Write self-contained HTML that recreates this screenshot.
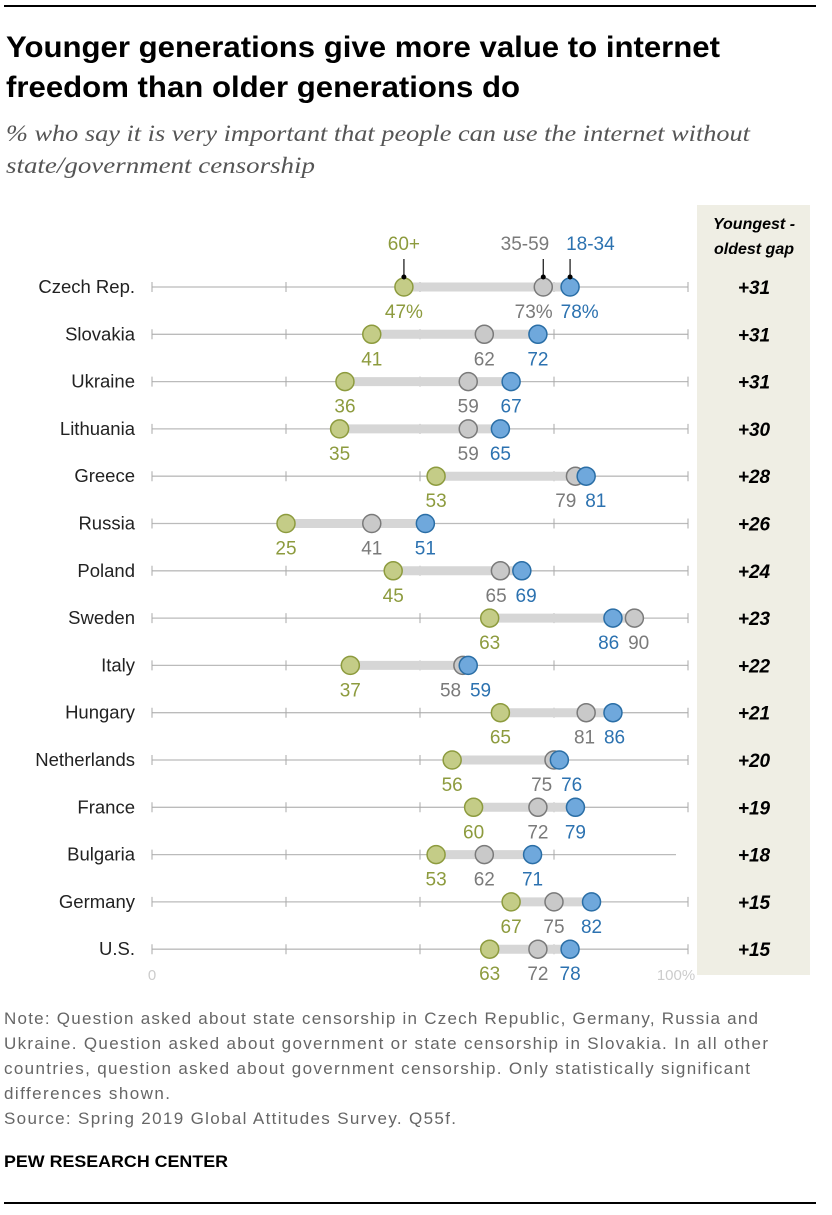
<!DOCTYPE html>
<html><head><meta charset="utf-8">
<style>
body{margin:0;background:#fff;width:832px;height:1210px;overflow:hidden;font-family:"Liberation Sans",sans-serif;}
</style></head>
<body>
<svg id="chart" width="832" height="1210" xmlns="http://www.w3.org/2000/svg" font-family="Liberation Sans, sans-serif">
<line x1="4" y1="6" x2="816" y2="6" stroke="#000" stroke-width="2"/>
<text x="6" y="57" font-size="30" font-weight="bold" fill="#000" textLength="714" lengthAdjust="spacingAndGlyphs">Younger generations give more value to internet</text>
<text x="6" y="97" font-size="30" font-weight="bold" fill="#000" textLength="514" lengthAdjust="spacingAndGlyphs">freedom than older generations do</text>
<text x="6" y="141" font-size="23" font-style="italic" font-family="Liberation Serif, serif" fill="#555" textLength="744" lengthAdjust="spacingAndGlyphs">% who say it is very important that people can use the internet without</text>
<text x="6" y="173" font-size="23" font-style="italic" font-family="Liberation Serif, serif" fill="#555" textLength="309" lengthAdjust="spacingAndGlyphs">state/government censorship</text>
<rect x="697" y="205" width="113" height="770" fill="#efeee4"/>
<text x="754" y="229" font-size="16" font-weight="bold" font-style="italic" text-anchor="middle">Youngest -</text>
<text x="754" y="254" font-size="16" font-weight="bold" font-style="italic" text-anchor="middle">oldest gap</text>
<g id="plot"></g>
<text font-size="17" fill="#666" lengthAdjust="spacingAndGlyphs">
<tspan x="4" y="1024" textLength="754">Note: Question asked about state censorship in Czech Republic, Germany, Russia and</tspan>
<tspan x="4" y="1049" textLength="764">Ukraine. Question asked about government or state censorship in Slovakia. In all other</tspan>
<tspan x="4" y="1074" textLength="746">countries, question asked about government censorship. Only statistically significant</tspan>
<tspan x="4" y="1099" textLength="166">differences shown.</tspan>
<tspan x="4" y="1124" textLength="452">Source: Spring 2019 Global Attitudes Survey. Q55f.</tspan>
</text>
<text x="4" y="1167" font-size="17" font-weight="bold" fill="#000" textLength="224" lengthAdjust="spacingAndGlyphs">PEW RESEARCH CENTER</text>
<line x1="4" y1="1203" x2="816" y2="1203" stroke="#000" stroke-width="2"/>
</svg>
<script>
const countries=["Czech Rep.","Slovakia","Ukraine","Lithuania","Greece","Russia","Poland","Sweden","Italy","Hungary","Netherlands","France","Bulgaria","Germany","U.S."];
const old60=[47,41,36,35,53,25,45,63,37,65,56,60,53,67,63];
const mid3559=[73,62,59,59,79,41,65,90,58,81,75,72,62,75,72];
const young1834=[78,72,67,65,81,51,69,86,59,86,76,79,71,82,78];
const gaps=["+31","+31","+31","+30","+28","+26","+24","+23","+22","+21","+20","+19","+18","+15","+15"];
const xTicks=[0,25,50,75,100];

const NS="http://www.w3.org/2000/svg";
const g=document.getElementById('plot');
const x=v=>152+v*5.36;
const y=i=>287+i*47.3;
function mk(t,a,p){const e=document.createElementNS(NS,t);for(const k in a)e.setAttribute(k,a[k]);(p||g).appendChild(e);return e;}
const series=[
 {vals:old60,fill:"#c4cc87",stroke:"#8d9b3e",lab:"#8d9b3e",name:"60+"},
 {vals:mid3559,fill:"#c9c9c9",stroke:"#7a7a7a",lab:"#7a7a7a",name:"35-59"},
 {vals:young1834,fill:"#6fa8dc",stroke:"#2a6ea6",lab:"#2c72b0",name:"18-34"}];
countries.forEach((c,i)=>{
  const yy=y(i);
  const t=mk('text',{x:135,y:yy+6,'font-size':18.5,'text-anchor':'end',fill:'#222'});t.textContent=c;
  
  
  const endX=c==="Bulgaria"?676:x(100);
  const ax=mk('line',{x1:x(0),y1:yy,x2:endX,y2:yy,stroke:'#bbb','stroke-width':1.3});
  
  
  xTicks.forEach(tv=>{if(x(tv)>endX+1)return;const tk=mk('line',{x1:x(tv),y1:yy-5,x2:x(tv),y2:yy+5,stroke:'#aaa','stroke-width':1});
    
    });
  const vs=series.map(s=>s.vals[i]);
  const mn=Math.min(...vs),mx=Math.max(...vs);
  const bar=mk('line',{x1:x(mn),y1:yy,x2:x(mx),y2:yy,stroke:'#d6d6d6','stroke-width':9});
  
  
  const minSep=i===0?46:30;
  const labs=series.map((s,k)=>({k,cx:x(s.vals[i]),v:s.vals[i]})).sort((a,b)=>a.cx-b.cx);
  for(let it=0;it<6;it++)for(let j=1;j<labs.length;j++){const d=labs[j].cx-labs[j-1].cx;if(d<minSep){const p=(minSep-d)/2;labs[j].cx+=p;labs[j-1].cx-=p;}}
  series.forEach((s,k)=>{
    const dot=mk('circle',{cx:x(s.vals[i]),cy:yy,r:9,fill:s.fill,stroke:s.stroke,'stroke-width':1.5});
    
    
  });
  labs.forEach(l=>{
    const s=series[l.k];
    const tl=mk('text',{x:l.cx,y:yy+31,'font-size':19,'text-anchor':'middle',fill:s.lab});
    tl.textContent=l.v+(i===0?'%':'');
    
    
  });
  const gt=mk('text',{x:754,y:yy+7,'font-size':19,'font-weight':'bold','font-style':'italic','text-anchor':'middle',fill:'#000'});
  gt.textContent=gaps[i];
  
  
});
series.forEach(s=>{
  const cx=x(s.vals[0]);
  const ln=mk('line',{x1:cx,y1:y(0)-10,x2:cx,y2:y(0)-28,stroke:'#222','stroke-width':1.3});
  
  
  const dt=mk('circle',{cx:cx,cy:y(0)-10,r:2.5,fill:'#000'});
  
  
});
[[series[0],x(47),'middle'],[series[1],x(73)+6,'end'],[series[2],x(78)-4,'start']].forEach(([s,px,anc])=>{
  const t=mk('text',{x:px,y:y(0)-37,'font-size':19,'text-anchor':anc,fill:s.lab});t.textContent=s.name;
  
  
});
[[0,'0',x(0)],[100,'100%',x(100)-12]].forEach(([v,l,px])=>{
  const t=mk('text',{x:px,y:980,'font-size':15,'text-anchor':'middle',fill:'#ccc'});t.textContent=l;
  
  
});
</script>
</body></html>
